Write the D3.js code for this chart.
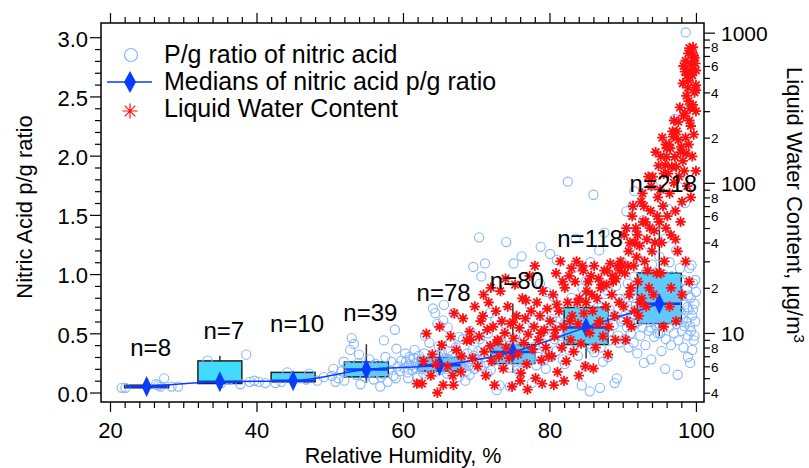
<!DOCTYPE html>
<html>
<head>
<meta charset="utf-8">
<script src="https://cdn.jsdelivr.net/npm/d3@7"></script>
<style>
  html, body { margin: 0; padding: 0; background: #fff; }
  svg { display: block; font-family: "Liberation Sans", Arial, Helvetica, sans-serif; }
</style>
</head>
<body>
<svg id="chart" width="809" height="468"></svg>
<script>
// ---- RH bins (10 % wide) and box statistics of the nitric acid p/g ratio ----
const binCenters  = [25, 35, 45, 55, 65, 75, 85, 95];
const binCounts   = [8, 7, 10, 39, 78, 80, 118, 218];
const boxQ1       = [0.040, 0.076, 0.090, 0.132, 0.182, 0.245, 0.405, 0.583];
const boxMedian   = [0.050, 0.090, 0.100, 0.194, 0.230, 0.343, 0.550, 0.750];
const boxQ3       = [0.062, 0.267, 0.170, 0.258, 0.296, 0.405, 0.718, 1.010];
const whiskerLow  = [0.040, 0.076, 0.090, 0.081, 0.146, 0.166, 0.287, 0.476];
const whiskerHigh = [0.062, 0.310, 0.170, 0.408, 0.436, 0.752, 0.963, 1.500];
const countLabelY = [0.307, 0.456, 0.512, 0.605, 0.774, 0.878, 1.230, 1.694];

// ---- individual p/g ratio samples: [RH %, p/g ratio] ----
const pgRatioPoints = [
  [21.6,0.04],[22.1,0.04],[26.3,0.07],[26.6,0.06],[26.9,0.05],[27.4,0.12],[28.4,0.05],[29.3,0.05],
  [33.3,0.27],[36.3,0.11],[37.8,0.07],[38.6,0.32],[39.1,0.09],[35.2,0.08],[39.7,0.10],
  [40.3,0.09],[41.2,0.08],[42.6,0.08],[43.4,0.09],[44.2,0.17],[45.9,0.12],[46.8,0.11],[47.2,0.16],[48.3,0.10],[49.2,0.13],
  [50.3,0.14],[50.8,0.09],[51.2,0.12],[51.6,0.18],[52.0,0.10],[52.4,0.22],[52.8,0.36],[53.0,0.46],[53.3,0.41],[53.6,0.15],
  [53.9,0.25],[54.2,0.07],[54.5,0.19],[54.8,0.13],[55.1,0.21],[55.4,0.28],[55.7,0.17],[56.0,0.11],[56.3,0.24],[56.6,0.20],
  [56.9,0.05],[57.1,0.16],[57.4,0.44],[57.6,0.30],[57.9,0.09],[58.1,0.19],[58.4,0.26],[58.7,0.14],[58.9,0.53],[59.1,0.37],
  [59.3,0.22],[59.6,0.18],[59.8,0.27],[50.5,0.20],[51.9,0.26],[54.0,0.32],[55.9,0.23],[57.0,0.13],[59.0,0.12],
  [60.2,0.21],[60.4,0.26],[60.6,0.17],[60.9,0.30],[61.1,0.23],[61.3,0.19],[61.6,0.36],[61.8,0.25],[62.0,0.14],[62.3,0.22],
  [62.5,0.28],[62.7,0.20],[62.9,0.33],[63.1,0.24],[63.4,0.18],[63.6,0.42],[63.8,0.27],[64.0,0.21],[64.1,0.71],[64.4,0.67],
  [64.6,0.25],[64.8,0.31],[65.0,0.19],[65.2,0.23],[65.5,0.61],[65.6,0.74],[65.8,0.29],[66.0,0.16],[66.2,0.35],[66.4,0.22],
  [66.6,0.26],[66.9,0.67],[67.0,0.20],[67.2,0.38],[67.4,0.24],[67.6,0.13],[67.8,0.30],[68.0,0.21],[68.2,0.45],[68.4,0.27],
  [68.6,0.18],[68.8,0.33],[69.0,0.23],[69.2,0.52],[69.4,0.28],[69.6,1.06],[69.8,0.20],[60.7,0.12],[61.5,0.29],[62.2,0.31],
  [63.3,0.26],[64.3,0.17],[65.4,0.27],[66.7,0.31],[67.9,0.25],[69.5,0.36],[68.5,0.10],[63.0,0.48],[66.1,0.55],[64.9,0.39],
  [60.3,0.33],[67.3,0.21],[62.6,0.24],[65.9,0.20],[61.0,0.28],[69.1,0.15],[66.5,0.42],[64.7,0.58],[67.7,0.47],[63.7,0.23],
  [68.9,0.26],[61.9,0.20],[65.3,0.34],[60.8,0.24],[62.8,0.16],[66.3,0.28],[68.3,0.22],[69.7,0.31],
  [70.1,0.28],[70.3,0.35],[70.4,1.31],[70.6,0.22],[70.7,0.98],[70.9,0.41],[71.1,0.30],[71.2,1.09],[71.4,0.25],[71.6,0.50],
  [71.8,0.33],[72.0,0.19],[72.2,0.37],[72.4,0.27],[72.6,0.62],[72.8,0.02],[73.0,0.31],[73.2,0.06],[73.4,0.43],[73.6,0.24],
  [73.8,0.35],[74.0,0.29],[74.1,1.27],[74.3,0.47],[74.5,0.21],[74.7,0.38],[74.9,0.32],[75.1,1.09],[75.3,0.26],[75.5,0.44],
  [75.7,0.34],[75.9,0.17],[76.1,0.40],[76.2,1.15],[76.4,0.30],[76.6,0.55],[76.8,0.25],[77.0,0.36],[77.3,0.74],[77.5,0.28],
  [77.8,0.61],[78.0,0.39],[78.2,0.23],[78.4,0.33],[78.7,0.92],[78.8,1.23],[79.0,0.42],[79.2,0.27],[79.4,0.52],[79.6,0.85],
  [79.8,0.36],[70.5,0.45],[71.5,0.16],[72.5,0.40],[73.5,0.29],[74.6,0.05],[75.6,0.22],[76.5,0.47],[77.6,0.08],[78.5,0.30],
  [79.5,0.20],[73.9,0.58],[71.9,0.67],[75.0,0.37],[77.1,0.31],[79.1,0.65],[76.0,0.26],[72.9,0.34],
  [80.1,1.17],[80.3,0.62],[80.5,0.81],[80.7,0.45],[80.9,0.35],[81.0,1.12],[81.2,0.52],[81.4,0.71],[81.6,0.40],[81.8,0.28],
  [82.0,0.58],[82.2,0.95],[82.4,0.47],[82.5,1.78],[82.7,0.36],[82.9,0.66],[83.1,0.52],[83.3,1.05],[83.5,0.43],[83.7,0.61],
  [83.9,0.31],[84.1,0.74],[84.3,0.50],[84.5,0.88],[84.7,0.56],[84.9,0.22],[85.1,0.64],[85.3,0.41],[85.5,0.01],[85.7,0.77],
  [85.9,0.53],[86.0,1.67],[86.2,0.46],[86.4,0.69],[86.6,0.58],[86.8,1.20],[87.0,0.38],[87.2,0.60],[87.4,0.49],[87.6,0.83],
  [87.8,0.55],[88.0,0.30],[88.2,0.70],[88.4,0.44],[88.6,1.02],[88.8,0.57],[89.0,0.65],[89.2,0.12],[89.4,0.48],[89.6,0.79],
  [89.8,0.60],[80.2,0.30],[81.1,0.60],[82.1,0.24],[83.0,0.80],[84.0,0.45],[85.0,0.94],[86.1,0.34],[87.1,0.72],[88.1,0.51],
  [89.1,0.90],[83.6,1.30],[85.6,1.10],[87.5,1.35],[84.4,0.06],[86.9,0.04],[88.9,0.08],[81.5,0.50],[82.8,0.55],[84.6,0.62],
  [86.5,0.48],[88.5,0.66],[89.5,0.42],[85.8,0.37],[87.9,0.86],[80.8,0.56],[83.8,0.68],[86.3,0.59],[87.3,0.26],[89.9,1.10],
  [90.1,0.62],[90.2,1.05],[90.3,0.45],[90.4,0.80],[90.5,1.53],[90.6,0.55],[90.7,0.92],[90.8,0.38],[90.9,0.70],[91.0,1.22],
  [91.1,0.50],[91.2,0.85],[91.3,0.66],[91.4,1.58],[91.5,0.42],[91.6,0.98],[91.7,0.58],[91.8,0.75],[91.9,1.35],[92.0,0.33],
  [92.1,0.88],[92.2,0.60],[92.3,1.12],[92.4,0.48],[92.5,0.72],[92.6,0.95],[92.7,0.55],[92.8,1.455],[92.9,0.68],[93.0,0.82],
  [93.1,0.40],[93.2,1.02],[93.3,0.63],[93.4,0.77],[93.5,1.25],[93.6,0.52],[93.7,0.90],[93.8,0.70],[93.9,0.28],[94.0,1.08],
  [94.1,0.60],[94.2,0.84],[94.3,0.47],[94.4,0.73],[94.5,1.40],[94.6,0.56],[94.7,0.96],[94.8,0.65],[94.9,0.80],[95.0,1.15],
  [95.1,0.50],[95.2,0.88],[95.3,0.35],[95.4,0.70],[95.5,1.00],[95.6,0.60],[95.7,0.78],[95.8,1.30],[95.9,0.45],[96.0,0.92],
  [96.1,0.66],[96.2,0.82],[96.3,0.55],[96.4,1.10],[96.5,0.72],[96.6,0.40],[96.7,0.98],[96.8,0.62],[96.9,0.86],[97.0,0.50],
  [97.1,2.31],[97.2,0.76],[97.3,1.20],[97.4,0.58],[97.5,0.90],[97.6,0.44],[97.7,0.70],[97.8,1.05],[97.9,0.64],[98.0,0.82],
  [98.1,0.52],[98.2,0.95],[98.3,0.38],[98.4,0.74],[98.5,1.60],[98.6,3.04],[98.7,0.60],[98.8,0.88],[98.9,0.48],[99.0,0.70],
  [99.1,1.05],[99.2,0.56],[99.3,0.80],[99.4,1.075],[99.5,0.65],[99.6,0.92],[99.7,0.44],[99.8,0.75],[99.9,0.60],[100.0,0.85],
  [99.3,0.52],[99.8,0.48],[99.5,0.36],[98.9,0.30],[98.2,0.62],[97.6,0.80],[96.9,0.68],[96.3,0.74],[95.6,0.86],[95.0,0.58],
  [94.4,0.90],[93.8,0.55],[93.2,0.78],[92.6,0.64],[92.0,0.70],[91.4,0.80],[90.8,0.60],[95.3,0.64],[96.6,0.84],[97.9,0.94],
  [99.0,0.82],[99.6,0.70],[98.4,0.56],[97.3,0.66],[94.8,0.50],[93.4,0.92],[91.7,0.90],[90.4,0.66],[99.9,0.95],[98.8,0.72],
  [92.9,0.25],[95.8,0.20],[97.5,0.15],[99.2,0.25],[94.1,1.75],[96.2,1.55],[98.3,1.80],[91.6,1.70]
];

// ---- liquid water content samples: [RH %, LWC ug/m3] ----
const lwcPoints = [
  [61.9,4.6],[62.6,4.6],[63.2,9.9],[64.7,4.0],[65.5,4.5],[66.9,4.5],[65.3,8.3],[67.3,7.7],[69.1,10.2],[68.7,8.9],
  [62.8,6.5],[64.0,7.2],[66.1,6.0],[67.9,5.5],[68.2,12.5],[69.5,6.8],[63.8,5.2],[66.5,9.5],[65.0,11],[67.0,13.5],
  [69.8,15],[68.0,7.0],[64.5,6.2],[66.8,5.2],[69.3,9.0],
  [70.2,6],[70.4,9.5],[70.6,12],[70.9,13],[71.1,7.5],[71.3,5.2],[71.5,10.5],[71.7,16],[71.9,8.2],[72.1,6.5],
  [72.3,11],[72.5,4.5],[72.7,14],[72.9,9],[73.1,7],[73.3,19],[73.5,12],[73.7,5.8],[73.9,10],[74.1,8],
  [74.3,15],[74.5,6.8],[74.7,11.5],[74.9,4.4],[75.1,9.2],[75.3,21],[75.5,13],[75.7,7.2],[75.9,10.8],[76.1,5.4],
  [76.3,17],[76.5,8.6],[76.7,12.5],[76.9,6.2],[77.1,9.8],[77.3,24],[77.5,14],[77.7,7.8],[77.9,11],[78.1,5],
  [78.3,16],[78.5,9],[78.7,13],[78.9,6.6],[79.1,19],[79.3,10.5],[79.5,8],[79.7,14.5],[79.9,7],[71.0,18],
  [72.0,20],[74.0,23],[76.0,4.8],[77.0,4.2],[78.0,28],[79.0,4.6],[73.0,8.8],[75.0,11.8],[76.8,16.5],[78.8,10],
  [80.1,12],[80.3,7],[80.5,18],[80.7,9.5],[80.9,25],[81.1,5.5],[81.3,14],[81.5,30],[81.7,8],[81.9,11],
  [82.1,20],[82.3,6.5],[82.5,16],[82.7,24],[82.9,9],[83.1,13],[83.3,7.5],[83.5,22],[83.7,30],[83.9,11.5],
  [84.1,17],[84.3,8.5],[84.5,28],[84.7,13.5],[84.9,6],[85.1,19],[85.3,22],[85.5,10],[85.7,24],[85.9,14],
  [86.1,28],[86.3,8],[86.5,17],[86.7,23],[86.9,12],[87.1,21],[87.3,9.5],[87.5,26],[87.7,15],[87.9,26],
  [88.1,11],[88.3,29],[88.5,18],[88.7,22],[88.9,13],[89.1,23],[89.3,28],[89.5,16],[89.7,30],[89.9,28],
  [80.6,4.5],[82.0,4.8],[84.0,5.2],[86.0,5.8],[88.0,7.2],[89.0,9],[81.0,15.5],[83.0,27],[85.0,16],[87.0,20],
  [89.6,26],[85.8,18],[84.6,26],[87.8,21],[88.6,24],[86.6,11.5],[83.8,16],[82.8,12],[81.8,22],[80.8,10.5],
  [90.1,15],[90.2,45],[90.3,25],[90.5,50],[90.6,12],[90.8,35],[91.0,40],[91.1,20],[91.3,60],[91.5,28],
  [91.6,14],[91.8,50],[92.0,45],[92.1,22],[92.3,38],[92.5,75],[92.6,17],[92.8,55],[93.0,30],[93.1,55],
  [93.3,42],[93.5,110],[93.6,20],[93.8,65],[94.0,35],[94.1,110],[94.3,48],[94.5,160],[94.6,25],[94.8,80],
  [95.0,55],[90.4,9],[91.2,11],[92.2,13],[93.2,15],[94.2,18],[91.9,32],[92.9,70],[93.9,95],[94.9,130],
  [90.9,18],[91.7,40],[92.7,85],[93.7,50],[94.7,60],[93.4,26],[92.4,16],[94.4,40],[90.7,28],[91.4,70],
  [95.1,90],[95.2,150],[95.3,40],[95.4,200],[95.5,70],[95.6,115],[95.7,30],[95.8,131],[95.9,180],[96.0,149],
  [96.1,60],[96.2,115],[96.3,180],[96.4,85],[96.5,170],[96.6,45],[96.7,128],[96.8,220],[96.9,203],[97.0,100],
  [97.1,149],[97.2,65],[97.3,128],[97.4,220],[97.5,35],[97.6,255],[97.6,193],[97.7,110],[97.8,318],[97.9,160],
  [98.0,174],[98.1,75],[98.2,140],[98.3,280],[98.4,120],[98.5,290],[98.5,550],[98.6,200],[98.7,157],[98.8,95],
  [98.9,430],[98.95,729],[99.0,180],[99.1,260],[99.2,313],[99.3,239],[99.4,748],[99.5,150],[99.6,330],[99.7,210],
  [99.8,400],[99.9,625],[100.0,448],[100.0,415],[100.0,300],[99.8,680],[99.6,800],[99.2,560],[99.0,350],[98.7,380],
  [95.2,25],[95.9,50],[96.6,20],[97.2,42],[97.9,55],[98.6,30],[99.3,80],[100.0,120],[96.0,170],[97.0,260],
  [98.2,460],[99.0,480],[99.5,520],[98.3,600],[99.7,700],[96.4,15],[97.3,12],[98.1,18],[95.6,11],[99.1,22],
  [98.6,650],[99.3,620],[100.0,560],[99.1,790],[98.8,520]
];

// ---- axis ticks and labels ----
const rhMajorTicks    = [20, 40, 60, 80, 100];
const ratioMajorTicks = [0.0, 0.5, 1.0, 1.5, 2.0, 2.5, 3.0];
const lwcDecadeTicks  = [10, 100, 1000];
const lwcMinorLabels  = [2, 4, 6, 8];

const legendLabels = ["P/g ratio of nitric acid", "Medians of nitric acid p/g ratio", "Liquid Water Content"];

// ---- colours ----
const circleColor = "#85b5ff";
const medianColor = "#0a3cff";
const boxFill     = "#3fdcfb";
const starColor   = "#ff1010";
const inkColor    = "#000";

const svg = d3.select("#chart");
const plot = { left: 101, right: 704, top: 23, bottom: 402 };

const x = d3.scaleLinear().domain([18.77, 101.1]).range([plot.left, plot.right]);
const y = d3.scaleLinear().domain([-0.08, 3.12]).range([plot.bottom, plot.top]);
const yLwc = d3.scaleLog().domain([3.47, 1160]).range([plot.bottom, plot.top]);

const font = '"Liberation Sans", Arial, Helvetica, sans-serif';

// 8-armed asterisk used for the LWC markers
function asteriskPath(r) {
  const d = r * Math.SQRT1_2;
  return `M${-r},0L${r},0M0,${-r}L0,${r}M${-d},${-d}L${d},${d}M${-d},${d}L${d},${-d}`;
}
function diamondPath(w, h) {
  return `M0,${-h/2}L${w/2},0L0,${h/2}L${-w/2},0Z`;
}

// ---- axes ----
const rhMinor = d3.range(20, 101, 2).filter(v => !rhMajorTicks.includes(v));
const ratioMinor = d3.range(0, 31).map(v => v / 10).filter(v => !ratioMajorTicks.some(t => Math.abs(t - v) < 1e-9));
const lwcMinor = [];
[1, 10, 100].forEach(dec => d3.range(2, 10).forEach(m => { const v = dec * m; if (v >= 4 && v < 1000) lwcMinor.push(v); }));

function styleAxis(g) {
  g.select(".domain").remove();
  g.selectAll("line").attr("stroke", inkColor).attr("stroke-width", 1.2);
  g.selectAll("text").attr("fill", inkColor).style("font-family", font);
}

// bottom
svg.append("g").attr("transform", `translate(0,${plot.bottom})`)
  .call(d3.axisBottom(x).tickValues(rhMinor).tickSize(6).tickFormat("")).call(styleAxis);
svg.append("g").attr("transform", `translate(0,${plot.bottom})`)
  .call(d3.axisBottom(x).tickValues(rhMajorTicks).tickSize(10).tickPadding(10).tickFormat(d3.format("d")))
  .call(styleAxis)
  .call(g => g.selectAll("text").style("font-size", "22px"));
// top (mirror ticks)
svg.append("g").attr("transform", `translate(0,${plot.top})`)
  .call(d3.axisTop(x).tickValues(rhMinor).tickSize(6).tickFormat("")).call(styleAxis);
svg.append("g").attr("transform", `translate(0,${plot.top})`)
  .call(d3.axisTop(x).tickValues(rhMajorTicks).tickSize(10).tickFormat("")).call(styleAxis);
// left
svg.append("g").attr("transform", `translate(${plot.left},0)`)
  .call(d3.axisLeft(y).tickValues(ratioMinor).tickSize(6).tickFormat("")).call(styleAxis);
svg.append("g").attr("transform", `translate(${plot.left},0)`)
  .call(d3.axisLeft(y).tickValues(ratioMajorTicks).tickSize(11).tickPadding(2).tickFormat(d3.format(".1f")))
  .call(styleAxis)
  .call(g => g.selectAll("text").style("font-size", "22px").attr("dy", "0.4em"));
// right (log)
svg.append("g").attr("transform", `translate(${plot.right},0)`)
  .call(d3.axisRight(yLwc).tickValues(lwcMinor).tickSize(6).tickPadding(1)
    .tickFormat(v => { const m = Math.round(v / Math.pow(10, Math.floor(Math.log10(v) + 1e-9))); return lwcMinorLabels.includes(m) ? String(m) : ""; }))
  .call(styleAxis)
  .call(g => g.selectAll("text").style("font-size", "13.5px").attr("dy", "0.35em"));
svg.append("g").attr("transform", `translate(${plot.right},0)`)
  .call(d3.axisRight(yLwc).tickValues(lwcDecadeTicks).tickSize(11).tickPadding(6).tickFormat(d3.format("d")))
  .call(styleAxis)
  .call(g => g.selectAll("text").style("font-size", "21px").attr("dy", "0.36em"));

// frame
svg.append("rect")
  .attr("x", plot.left).attr("y", plot.top)
  .attr("width", plot.right - plot.left).attr("height", plot.bottom - plot.top)
  .attr("fill", "none").attr("stroke", inkColor).attr("stroke-width", 1.5);

// ---- axis titles ----
svg.append("text").attr("x", 403).attr("y", 463).attr("text-anchor", "middle")
  .style("font-size", "21.5px").attr("fill", inkColor).text("Relative Humidity, %");
svg.append("text").attr("transform", "translate(32,207) rotate(-90)").attr("text-anchor", "middle")
  .style("font-size", "22px").attr("fill", inkColor).text("Nitric Acid p/g ratio");
const rTitle = svg.append("text").attr("transform", "translate(787,205) rotate(90)").attr("text-anchor", "middle")
  .style("font-size", "22px").attr("fill", inkColor);
rTitle.append("tspan").text("Liquid Water Content, \u00b5g/m");
rTitle.append("tspan").attr("dy", "-0.45em").style("font-size", "15px").text("3");

// ---- data layer ----
const data = svg.append("g");
const halfBin = 3;
const boxes = binCenters.map((c, i) => ({
  c, n: binCounts[i], q1: boxQ1[i], med: boxMedian[i], q3: boxQ3[i],
  lo: whiskerLow[i], hi: whiskerHigh[i], labelY: countLabelY[i]
}));

// whiskers
data.append("g").selectAll("line").data(boxes).join("line")
  .attr("x1", d => x(d.c)).attr("x2", d => x(d.c))
  .attr("y1", d => y(d.hi)).attr("y2", d => y(d.lo))
  .attr("stroke", "#333").attr("stroke-width", 1.5);
// boxes
data.append("g").selectAll("rect").data(boxes).join("rect")
  .attr("x", d => x(d.c - halfBin)).attr("width", d => x(d.c + halfBin) - x(d.c - halfBin))
  .attr("y", d => y(d.q3)).attr("height", d => y(d.q1) - y(d.q3))
  .attr("fill", boxFill).attr("stroke", "#222").attr("stroke-width", 1.5);

// p/g samples
data.append("g").selectAll("circle").data(pgRatioPoints).join("circle")
  .attr("cx", d => x(d[0])).attr("cy", d => y(d[1])).attr("r", 4.6)
  .attr("fill", "none").attr("stroke", circleColor).attr("stroke-width", 1.1);

// median bars inside boxes
data.append("g").selectAll("line").data(boxes).join("line")
  .attr("x1", d => x(d.c - halfBin) + 1).attr("x2", d => x(d.c + halfBin) - 1)
  .attr("y1", d => y(d.med)).attr("y2", d => y(d.med))
  .attr("stroke", medianColor).attr("stroke-width", 2.5);

// median line and markers
data.append("path").datum(boxes)
  .attr("d", d3.line().x(d => x(d.c)).y(d => y(d.med)).curve(d3.curveMonotoneX))
  .attr("fill", "none").attr("stroke", medianColor).attr("stroke-width", 1.5);
data.append("g").selectAll("path").data(boxes).join("path")
  .attr("transform", d => `translate(${x(d.c)},${y(d.med)})`)
  .attr("d", diamondPath(10, 21)).attr("fill", medianColor);

// LWC samples
data.append("g").selectAll("path").data(lwcPoints).join("path")
  .attr("transform", d => `translate(${x(d[0])},${yLwc(d[1])})`)
  .attr("d", asteriskPath(5.2)).attr("fill", "none")
  .attr("stroke", starColor).attr("stroke-width", 1.8);

// count labels
data.append("g").selectAll("text").data(boxes).join("text")
  .attr("x", d => x(d.c) + 4).attr("y", d => y(d.labelY))
  .attr("text-anchor", "middle").style("font-size", "24px").attr("fill", inkColor)
  .text(d => `n=${d.n}`);

// ---- legend ----
const legend = svg.append("g");
legend.append("circle").attr("cx", 131).attr("cy", 55).attr("r", 6.5)
  .attr("fill", "none").attr("stroke", circleColor).attr("stroke-width", 1.2);
legend.append("line").attr("x1", 107).attr("x2", 152).attr("y1", 82).attr("y2", 82)
  .attr("stroke", medianColor).attr("stroke-width", 1.5);
legend.append("path").attr("transform", "translate(130,82)").attr("d", diamondPath(12, 22)).attr("fill", medianColor);
legend.append("path").attr("transform", "translate(130,111)").attr("d", asteriskPath(7.5))
  .attr("fill", "none").attr("stroke", starColor).attr("stroke-width", 1.2);
legend.selectAll("text").data(legendLabels).join("text")
  .attr("x", 164).attr("y", (d, i) => 63 + i * 27)
  .style("font-size", "25px").attr("fill", inkColor).text(d => d);
</script>
</body>
</html>
